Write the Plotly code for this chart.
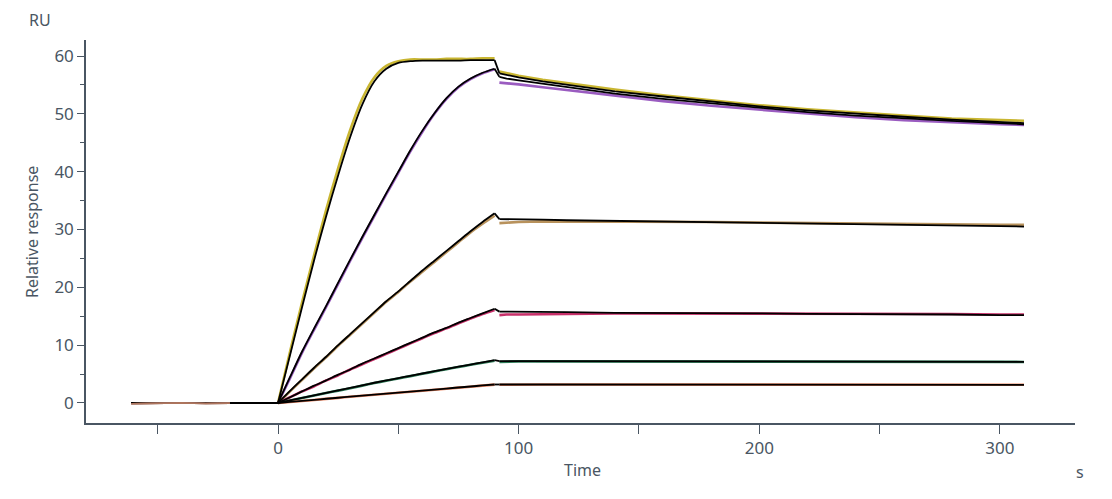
import plotly.graph_objects as go

# ---------------- data ----------------
T_BASE = [-61, -50, -40, -30, -20, -10, 0]
T_ASSOC = [0, 5, 10, 15, 20, 25, 30, 35, 40, 45, 50, 55, 60, 65, 70, 75, 80, 85, 90]
T_DISS = [92, 95, 100, 110, 120, 140, 160, 180, 200, 220, 240, 260, 280, 300, 310]

base_fit = [0, 0, 0, 0, 0, 0, 0]
base_data = [-0.12, -0.05, 0.02, -0.08, -0.03, 0.0, 0.0]

# fitted curves (black)
fit_assoc_1 = [0, 8.3, 16.6, 24.7, 32.3, 39.4, 46.0, 51.6, 55.6, 57.8, 58.8, 59.1, 59.2, 59.2, 59.2, 59.2, 59.3, 59.3, 59.3]
fit_assoc_2 = [0, 4.5, 8.9, 12.9, 16.8, 20.8, 24.8, 28.7, 32.5, 36.3, 40.0, 43.7, 47.1, 50.1, 52.7, 54.7, 56.1, 57.1, 57.8]
fit_assoc_3 = [0, 2.1, 4.1, 6.1, 8.0, 10.0, 11.9, 13.8, 15.7, 17.6, 19.3, 21.1, 22.9, 24.6, 26.3, 28.0, 29.7, 31.3, 32.8]
fit_assoc_4 = [0, 1.0, 2.0, 3.0, 3.9, 4.9, 5.8, 6.8, 7.7, 8.6, 9.5, 10.4, 11.3, 12.2, 13.0, 13.9, 14.7, 15.5, 16.3]
fit_assoc_5 = [0, 0.45, 0.9, 1.33, 1.75, 2.18, 2.6, 3.05, 3.5, 3.9, 4.3, 4.7, 5.1, 5.5, 5.9, 6.28, 6.65, 7.02, 7.4]
fit_assoc_6 = [0, 0.18, 0.37, 0.55, 0.73, 0.91, 1.09, 1.27, 1.44, 1.62, 1.79, 1.97, 2.14, 2.32, 2.5, 2.68, 2.85, 3.03, 3.2]

fit_diss_1 = [57.0, 56.7, 56.3, 55.6, 55.0, 53.9, 53.0, 52.1, 51.3, 50.6, 50.0, 49.5, 49.0, 48.6, 48.4]
fit_diss_2 = [56.4, 56.1, 55.8, 55.2, 54.6, 53.5, 52.6, 51.8, 51.0, 50.3, 49.7, 49.2, 48.8, 48.4, 48.2]
fit_diss_3 = [31.8, 31.8, 31.7, 31.7, 31.6, 31.5, 31.4, 31.3, 31.2, 31.1, 31.0, 30.9, 30.7, 30.6, 30.5]
fit_diss_4 = [15.8, 15.8, 15.8, 15.7, 15.7, 15.6, 15.6, 15.5, 15.5, 15.4, 15.4, 15.3, 15.3, 15.2, 15.2]
fit_diss_5 = [7.25, 7.25, 7.25, 7.24, 7.23, 7.22, 7.21, 7.2, 7.19, 7.18, 7.17, 7.16, 7.15, 7.13, 7.12]
fit_diss_6 = [3.2, 3.2, 3.2, 3.2, 3.2, 3.19, 3.19, 3.18, 3.18, 3.17, 3.17, 3.16, 3.16, 3.15, 3.15]

# measured curves (coloured)
data_assoc_1 = [0, 8.9, 17.4, 25.6, 33.4, 40.6, 47.2, 52.6, 56.3, 58.3, 59.1, 59.4, 59.4, 59.4, 59.5, 59.5, 59.5, 59.6, 59.6]
data_assoc_2 = [0, 4.3, 8.7, 12.7, 16.6, 20.6, 24.6, 28.5, 32.3, 36.1, 39.8, 43.5, 46.9, 50.0, 52.6, 54.6, 56.0, 57.0, 57.7]
data_assoc_3 = [0, 2.0, 4.0, 6.0, 7.9, 9.9, 11.8, 13.7, 15.6, 17.5, 19.2, 21.0, 22.7, 24.4, 26.1, 27.8, 29.5, 31.0, 32.4]
data_assoc_4 = [0, 1.0, 2.0, 2.9, 3.9, 4.8, 5.8, 6.7, 7.6, 8.5, 9.4, 10.3, 11.2, 12.1, 12.9, 13.8, 14.6, 15.4, 16.1]
data_assoc_5 = [0, 0.42, 0.86, 1.3, 1.72, 2.14, 2.56, 3.0, 3.45, 3.85, 4.25, 4.65, 5.05, 5.45, 5.85, 6.22, 6.6, 6.96, 7.3]
data_assoc_6 = [0, 0.16, 0.35, 0.53, 0.71, 0.89, 1.07, 1.25, 1.42, 1.6, 1.77, 1.95, 2.12, 2.3, 2.47, 2.65, 2.82, 3.0, 3.17]

data_diss_1 = [57.3, 57.0, 56.6, 55.9, 55.3, 54.2, 53.2, 52.3, 51.5, 50.8, 50.2, 49.7, 49.2, 48.9, 48.8]
data_diss_2 = [55.4, 55.3, 55.1, 54.6, 54.1, 53.1, 52.2, 51.4, 50.7, 50.0, 49.4, 48.9, 48.5, 48.2, 48.1]
data_diss_3 = [31.1, 31.2, 31.3, 31.4, 31.4, 31.4, 31.3, 31.3, 31.2, 31.1, 31.0, 31.0, 30.9, 30.8, 30.8]
data_diss_4 = [15.2, 15.3, 15.3, 15.4, 15.4, 15.5, 15.5, 15.5, 15.5, 15.4, 15.4, 15.4, 15.4, 15.3, 15.3]
data_diss_5 = [7.1, 7.15, 7.2, 7.2, 7.2, 7.2, 7.2, 7.2, 7.2, 7.2, 7.15, 7.15, 7.1, 7.1, 7.1]
data_diss_6 = [3.15, 3.17, 3.2, 3.2, 3.2, 3.2, 3.2, 3.19, 3.19, 3.18, 3.18, 3.17, 3.17, 3.16, 3.16]

colors = ["#c9b632", "#9a5cc0", "#b8925c", "#c8306a", "#2a7a55", "#e8825e"]

X_TICKS = [0, 100, 200, 300]
X_MINOR = [-50, 50, 150, 250]
Y_TICKS = [0, 10, 20, 30, 40, 50, 60]
Y_MINOR = [5, 15, 25, 35, 45, 55]

fits_a = [fit_assoc_1, fit_assoc_2, fit_assoc_3, fit_assoc_4, fit_assoc_5, fit_assoc_6]
fits_d = [fit_diss_1, fit_diss_2, fit_diss_3, fit_diss_4, fit_diss_5, fit_diss_6]
datas_a = [data_assoc_1, data_assoc_2, data_assoc_3, data_assoc_4, data_assoc_5, data_assoc_6]
datas_d = [data_diss_1, data_diss_2, data_diss_3, data_diss_4, data_diss_5, data_diss_6]

# ---------------- figure ----------------
fig = go.Figure()
DW = 2.6
FW = 1.8
ink = "#4a5663"

# coloured measured data
for c, da, dd in zip(colors, datas_a, datas_d):
    fig.add_trace(go.Scatter(x=T_ASSOC, y=da, mode="lines",
                             line=dict(color=c, width=DW, shape="spline", smoothing=0.7),
                             hoverinfo="skip", showlegend=False))
    fig.add_trace(go.Scatter(x=T_DISS, y=dd, mode="lines",
                             line=dict(color=c, width=DW),
                             hoverinfo="skip", showlegend=False))

# black fitted curves
for fa, fd in zip(fits_a, fits_d):
    fig.add_trace(go.Scatter(x=T_BASE, y=base_fit, mode="lines",
                             line=dict(color="black", width=FW),
                             hoverinfo="skip", showlegend=False))
    fig.add_trace(go.Scatter(x=T_ASSOC, y=fa, mode="lines",
                             line=dict(color="black", width=FW, shape="spline", smoothing=0.7),
                             hoverinfo="skip", showlegend=False))
    fig.add_trace(go.Scatter(x=[T_ASSOC[-1], T_DISS[0]], y=[fa[-1], fd[0]], mode="lines",
                             line=dict(color="black", width=FW),
                             hoverinfo="skip", showlegend=False))
    fig.add_trace(go.Scatter(x=T_DISS, y=fd, mode="lines",
                             line=dict(color="black", width=FW),
                             hoverinfo="skip", showlegend=False))

# noisy coloured baseline on top
for i, c in enumerate(colors):
    fig.add_trace(go.Scatter(x=T_BASE[:5], y=base_data[:5], mode="lines",
                             line=dict(color=c, width=1.6), opacity=0.55,
                             hoverinfo="skip", showlegend=False))

font = dict(family="Noto Sans, Open Sans, sans-serif", size=16, color=ink)
tfont = dict(family="Noto Sans, Open Sans, sans-serif", size=17, color=ink)

fig.update_layout(
    width=1112, height=499,
    margin=dict(l=86, r=37, t=40, b=76),
    paper_bgcolor="white", plot_bgcolor="white",
    font=font,
    xaxis=dict(range=[-79.8, 331.2], tickvals=X_TICKS, ticktext=[str(v) for v in X_TICKS],
               showgrid=False, zeroline=False, showline=True, linecolor=ink, linewidth=1.5,
               ticks="outside", ticklen=9, tickwidth=1.3, tickcolor=ink,
               minor=dict(tickvals=X_MINOR, ticks="outside", ticklen=9, tickwidth=1.3, tickcolor=ink,
                          showgrid=False),
               tickfont=tfont),
    yaxis=dict(range=[-3.46, 62.77], tickvals=Y_TICKS, ticktext=[str(v) for v in Y_TICKS],
               showgrid=False, zeroline=False, showline=True, linecolor=ink, linewidth=1.5,
               ticks="outside", ticklen=7, tickwidth=1.3, tickcolor=ink,
               minor=dict(tickvals=Y_MINOR, ticks="outside", ticklen=4, tickwidth=1.3, tickcolor=ink,
                          showgrid=False),
               tickfont=tfont),
)

def px(xp):
    return (xp - 86) / 989.0

def py(yp):
    return (423 - yp) / 383.0

fig.add_annotation(text="RU", x=px(40), y=py(20), xref="paper", yref="paper",
                   showarrow=False, font=font, xanchor="center", yanchor="middle")
fig.add_annotation(text="Relative response", x=px(32), y=py(232), xref="paper", yref="paper",
                   showarrow=False, font=font, textangle=-90, xanchor="center", yanchor="middle")
fig.add_annotation(text="Time", x=px(582), y=py(470), xref="paper", yref="paper",
                   showarrow=False, font=font, xanchor="center", yanchor="middle")
fig.add_annotation(text="s", x=px(1080), y=py(472), xref="paper", yref="paper",
                   showarrow=False, font=font, xanchor="center", yanchor="middle")

fig.write_html("out.html")
